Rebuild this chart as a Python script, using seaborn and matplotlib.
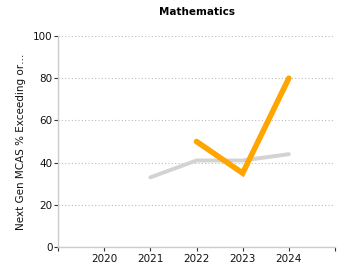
import matplotlib
matplotlib.use("Agg")
import matplotlib.pyplot as plt
import seaborn as sns
import pandas as pd

years_gray = [2021, 2022, 2023, 2024]
vals_gray = [33, 41, 41, 44]
years_orange = [2022, 2023, 2024]
vals_orange = [50, 35, 80]
xtick_years = [2020, 2021, 2022, 2023, 2024]
ytick_vals = [0, 20, 40, 60, 80, 100]

sns.set_style("white", {"xtick.bottom": True, "ytick.left": True})
plt.rcParams['font.family'] = ['DejaVu Sans']

fig = plt.figure(figsize=(3.5, 2.8), dpi=100)
ax = fig.add_axes([58/350, 1 - 247/280, (335-58)/350, (247-36)/280])

df_g = pd.DataFrame({"year": years_gray, "val": vals_gray})
df_o = pd.DataFrame({"year": years_orange, "val": vals_orange})
sns.lineplot(data=df_g, x="year", y="val", ax=ax, color="#d3d3d3", linewidth=2.8)
sns.lineplot(data=df_o, x="year", y="val", ax=ax, color="#ffa500", linewidth=4,
             solid_capstyle="round", solid_joinstyle="miter")

ax.set_xlim(2019, 2025)
ax.set_ylim(0, 100)
ax.set_xticks([2019] + xtick_years + [2025])
ax.set_xticklabels([""] + [str(y) for y in xtick_years] + [""])
ax.set_yticks(ytick_vals)
ax.set_yticklabels([str(v) for v in ytick_vals])
ax.tick_params(axis="both", labelsize=7.5, length=3, width=0.8, color="#333333",
               direction="out", pad=2, labelcolor="#111111", bottom=True, left=True)
ax.tick_params(axis="y", pad=1)
ax.yaxis.grid(True, linestyle=(0, (1, 2)), color="#bbbbbb", linewidth=0.8)
ax.xaxis.grid(False)
for s in ["top", "right"]:
    ax.spines[s].set_visible(False)
for s in ["left", "bottom"]:
    ax.spines[s].set_color("#cccccc")
    ax.spines[s].set_linewidth(1)
ax.set_xlabel("")
ax.set_ylabel("Next Gen MCAS % Exceeding or…", fontsize=7.5, labelpad=5, color="#111111")
ax.set_title("Mathematics", fontsize=7.5, fontweight="bold", pad=15, color="#000000")

fig.savefig("out.png", dpi=100)
